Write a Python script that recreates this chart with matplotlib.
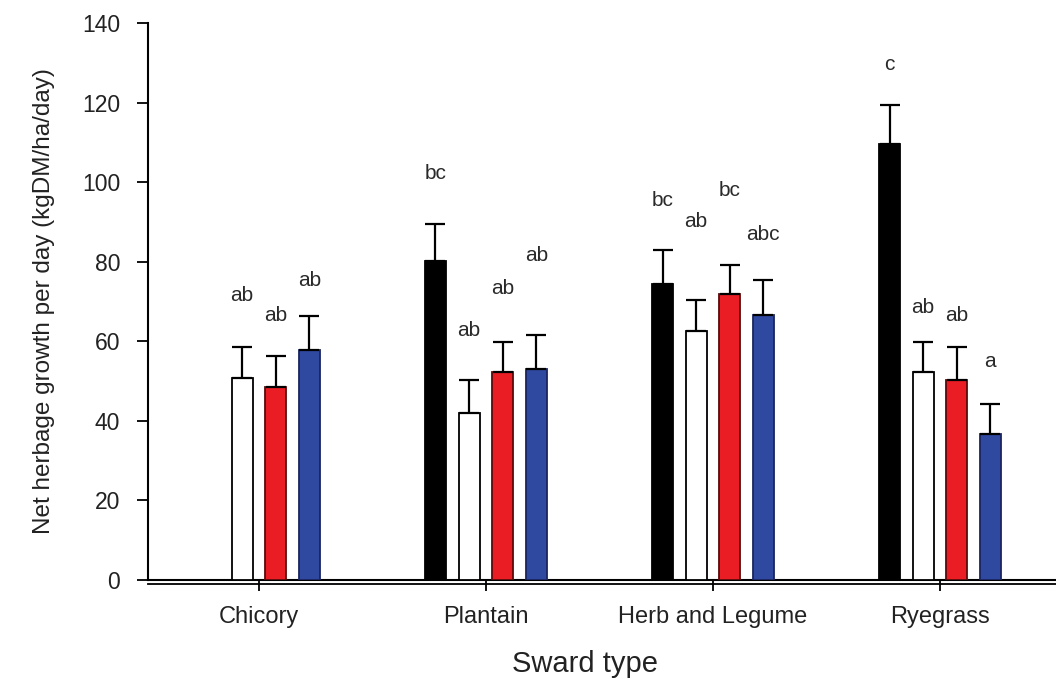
import numpy as np
import matplotlib
matplotlib.use("Agg")
import matplotlib.pyplot as plt
import matplotlib.transforms as mtransforms

nan = np.nan

# ---- data ----
groups = ["Chicory", "Plantain", "Herb and Legume", "Ryegrass"]
black_means = [nan, 80.2, 74.3, 109.5]
black_err = [nan, 9.2, 8.6, 10.0]
white_means = [50.8, 42.1, 62.7, 52.3]
white_err = [7.8, 8.2, 7.7, 7.5]
red_means = [48.6, 52.2, 71.9, 50.4]
red_err = [7.7, 7.7, 7.2, 8.2]
blue_means = [57.8, 53.1, 66.5, 36.8]
blue_err = [8.5, 8.6, 9.0, 7.5]

black_letters = ["", "bc", "bc", "c"]
black_letter_y = [nan, 102.2, 95.5, 129.6]
white_letters = ["ab", "ab", "ab", "ab"]
white_letter_y = [71.6, 62.8, 90.2, 68.6]
red_letters = ["ab", "ab", "bc", "ab"]
red_letter_y = [66.6, 73.4, 98.0, 66.4]
blue_letters = ["ab", "ab", "abc", "a"]
blue_letter_y = [75.2, 81.7, 86.9, 54.9]

yticks = [0, 20, 40, 60, 80, 100, 120, 140]

plt.rcParams["font.family"] = ["Liberation Sans", "DejaVu Sans"]

fig = plt.figure(figsize=(10.56, 6.79), dpi=100)
ax = fig.add_axes([0.140, 0.1458, 0.860, 0.8202])

x = np.arange(len(groups))
offsets = [-0.222, -0.074, 0.074, 0.222]
width = 0.093

series = [
    (black_means, black_err, "black", "black", black_letters, black_letter_y),
    (white_means, white_err, "white", "black", white_letters, white_letter_y),
    (red_means, red_err, "#ea1c24", "#5a0a0a", red_letters, red_letter_y),
    (blue_means, blue_err, "#3049a0", "#1a2560", blue_letters, blue_letter_y),
]

for (means, errs, fc, ec, letters, ly), off in zip(series, offsets):
    m = np.array(means, dtype=float)
    e = np.array(errs, dtype=float)
    ok = ~np.isnan(m)
    xs = x[ok] + off
    ax.bar(xs, m[ok], width=width, color=fc, edgecolor=ec, linewidth=1.3, zorder=3)
    ax.errorbar(xs, m[ok], yerr=[np.zeros(ok.sum()), e[ok]], fmt="none",
                ecolor="black", elinewidth=1.6, capsize=7.0, capthick=1.6, zorder=4)
    for xi, lab, yy in zip(x + off, letters, ly):
        if lab and not np.isnan(yy):
            ax.text(xi, yy, lab, ha="center", va="center", fontsize=15,
                    color="#2a2a2a", zorder=5)

ax.set_xlim(-0.489, 3.511)
ax.set_ylim(0, 140)
ax.set_yticks(yticks)
ax.set_yticklabels([str(t) for t in yticks], fontsize=16.5, color="#222222")
ax.set_xticks(x)
ax.set_xticklabels(groups, fontsize=17, color="#222222")
ax.tick_params(axis="y", direction="out", length=8, width=1.3, pad=12)
ax.tick_params(axis="x", direction="out", length=8, width=1.3, pad=11)

for s in ["top", "right"]:
    ax.spines[s].set_visible(False)
ax.spines["left"].set_linewidth(1.5)
ax.spines["bottom"].set_linewidth(1.5)

# double line look for the x axis
trans = mtransforms.blended_transform_factory(ax.transAxes, ax.transData)
ax.plot([0, 1], [-0.9, -0.9], transform=trans,
        color="black", linewidth=1.3, clip_on=False, zorder=2)

ax.set_ylabel("Net herbage growth per day (kgDM/ha/day)", fontsize=17.5,
              color="#222222")
ax.yaxis.set_label_coords(-0.102, 0.5)
ax.set_xlabel("Sward type", fontsize=21, color="#222222")
ax.xaxis.set_label_coords(0.481, -0.125)

fig.savefig("out.png", dpi=100)
